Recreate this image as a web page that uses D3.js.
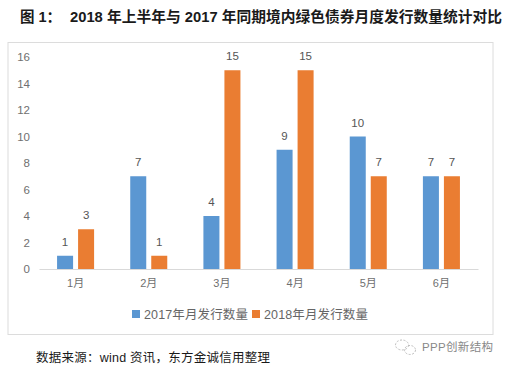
<!DOCTYPE html>
<html>
<head>
<meta charset="utf-8">
<script src="https://cdn.jsdelivr.net/npm/d3@7"></script>
<style>
body { margin: 0; background: #fff; }
text { font-family: "Liberation Sans", "Noto Sans CJK SC", sans-serif; }
.cjk { font-family: "Noto Sans", "Noto Sans CJK SC", sans-serif; }
</style>
</head>
<body>
<div id="chart"></div>
<script>
//chart values
var months = ["1月", "2月", "3月", "4月", "5月", "6月"];
var series2017 = [1, 7, 4, 9, 10, 7];
var series2018 = [3, 1, 15, 15, 7, 7];
var seriesNames = ["2017年月发行数量", "2018年月发行数量"];
var yTicks = [0, 2, 4, 6, 8, 10, 12, 14, 16];
var colors = ["#5b97d2", "#ea7d32"];

var width = 512;
var height = 370;

var svg = d3.select("#chart")
    .append("svg")
    .attr("width", width)
    .attr("height", height)
    .style("display", "block");

//title
svg.append("text")
    .attr("x", 20)
    .attr("y", 22)
    .attr("font-size", 14.5)
    .attr("font-weight", 700)
    .attr("fill", "#1a1a1a")
    .text("图 1：");

svg.append("text")
    .attr("x", 70)
    .attr("y", 22)
    .attr("font-size", 14.5)
    .attr("font-weight", 700)
    .attr("fill", "#1a1a1a")
    .attr("textLength", 432)
    .attr("lengthAdjust", "spacingAndGlyphs")
    .text("2018 年上半年与 2017 年同期境内绿色债券月度发行数量统计对比");

//frame
svg.append("rect")
    .attr("x", 8)
    .attr("y", 42.5)
    .attr("width", 485)
    .attr("height", 292)
    .attr("fill", "#fff")
    .attr("stroke", "#dcdcdc");

var x = d3.scaleBand()
    .domain(months)
    .range([39, 478]);

var y = d3.scaleLinear()
    .domain([0, 16])
    .range([269, 57]);

//16px bars with a 5px gap inside a 73px month band
var inner = d3.scaleBand()
    .domain([0, 1])
    .range([0, x.bandwidth()])
    .paddingInner(0.238)
    .paddingOuter(0.86);

//axes
var xAxis = svg.append("g")
    .attr("transform", "translate(0,269)")
    .call(d3.axisBottom(x).tickSize(0).tickPadding(10));
xAxis.select(".domain").attr("stroke", "#d9d9d9");
xAxis.selectAll("text").attr("font-size", 11).attr("fill", "#6f6f6f");

var yAxis = svg.append("g")
    .attr("transform", "translate(39,0)")
    .call(d3.axisLeft(y).tickValues(yTicks).tickSize(0).tickPadding(9));
yAxis.select(".domain").remove();
yAxis.selectAll("text").attr("font-size", 11.5).attr("fill", "#6f6f6f");

//bars
[series2017, series2018].forEach(function (values, i) {
    var group = svg.append("g");

    group.selectAll("rect")
        .data(values)
        .enter()
        .append("rect")
        .attr("x", function (d, j) { return x(months[j]) + inner(i); })
        .attr("y", function (d) { return y(d); })
        .attr("width", inner.bandwidth())
        .attr("height", function (d) { return y(0) - y(d); })
        .attr("fill", colors[i]);

    group.selectAll("text")
        .data(values)
        .enter()
        .append("text")
        .attr("x", function (d, j) { return x(months[j]) + inner(i) + inner.bandwidth() / 2; })
        .attr("y", function (d) { return y(d) - 10; })
        .attr("text-anchor", "middle")
        .attr("font-size", 11.5)
        .attr("fill", "#555")
        .text(function (d) { return d; });
});

//legend
var legendX = [132, 252];
seriesNames.forEach(function (name, i) {
    svg.append("rect")
        .attr("x", legendX[i])
        .attr("y", 310)
        .attr("width", 8)
        .attr("height", 8)
        .attr("fill", colors[i]);
    svg.append("text")
        .attr("x", legendX[i] + 12)
        .attr("y", 319)
        .attr("font-size", 12.5)
        .attr("fill", "#666")
        .attr("textLength", 104)
        .text(name);
});

//source and watermark
svg.append("text")
    .attr("x", 36)
    .attr("y", 362)
    .attr("font-size", 12.5)
    .attr("fill", "#1a1a1a")
    .attr("textLength", 234)
    .text("数据来源：wind 资讯，东方金诚信用整理");

var icon = svg.append("g")
    .attr("fill", "none")
    .attr("stroke", "#bdbdbd")
    .attr("stroke-dasharray", "2 1.5");
icon.append("ellipse").attr("cx", 402).attr("cy", 345).attr("rx", 6.5).attr("ry", 5);
icon.append("ellipse").attr("cx", 410).attr("cy", 350).attr("rx", 5.5).attr("ry", 4.5);

svg.append("text")
    .attr("x", 422)
    .attr("y", 351)
    .attr("font-size", 11.5)
    .attr("fill", "#888")
    .attr("textLength", 71)
    .text("PPP创新结构");
</script>
</body>
</html>
